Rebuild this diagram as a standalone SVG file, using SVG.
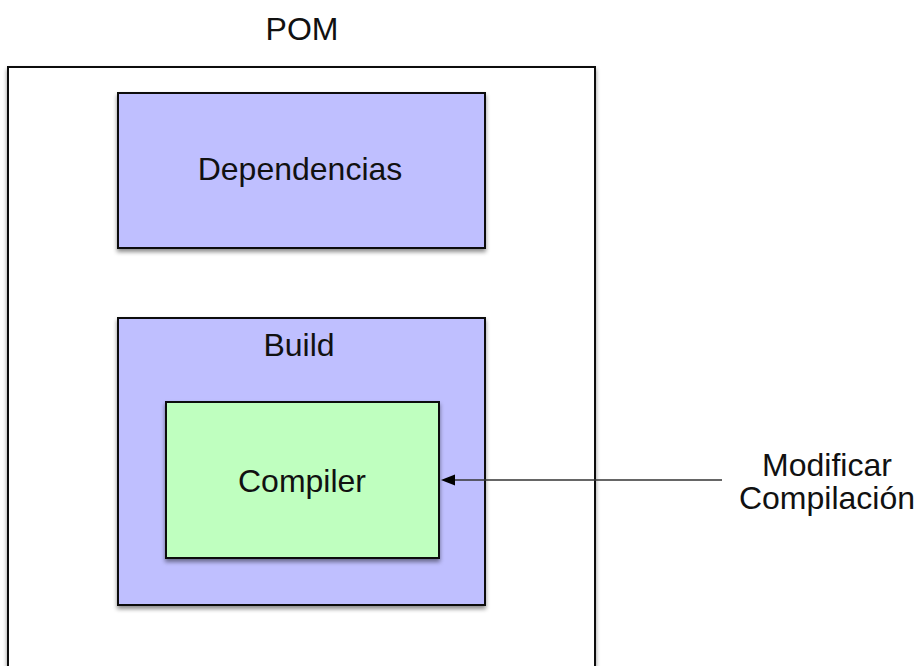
<svg xmlns="http://www.w3.org/2000/svg" width="921" height="666" viewBox="0 0 921 666">
<style>
.box{stroke:#111;stroke-width:2;filter:url(#sh)}
.purple{fill:#BFBFFF}
.green{fill:#BFFFBF}
.white{fill:#fff}
text{font-family:"Liberation Sans",Arial,sans-serif;font-size:32px;fill:#111;text-anchor:middle}
.conn{stroke:#333;stroke-width:1.6;fill:none}
</style>
<defs>
<filter id="sh" x="-10%" y="-10%" width="120%" height="120%">
<feDropShadow dx="0" dy="3" stdDeviation="2" flood-color="#000" flood-opacity="0.45"/>
</filter>
</defs>
<g id="pom">
<rect class="box white" x="8" y="67" width="587" height="660"/>
<text x="302" y="40">POM</text>
</g>
<g id="dependencias">
<rect class="box purple" x="118" y="93" width="367" height="155"/>
<text x="300" y="180">Dependencias</text>
</g>
<g id="build">
<rect class="box purple" x="118" y="318" width="367" height="287"/>
<text x="299" y="356">Build</text>
</g>
<g id="compiler">
<rect class="box green" x="166" y="402" width="273" height="156"/>
<text x="302" y="492">Compiler</text>
</g>
<g id="modificar">
<text x="827" y="476">Modificar</text>
<text x="827" y="509">Compilación</text>
</g>
<g id="connectors">
<line class="conn" x1="722" y1="480" x2="454" y2="480"/>
<path d="M455,474.5 L441,480 L455,485.5 z" fill="#000"/>
</g>
</svg>
